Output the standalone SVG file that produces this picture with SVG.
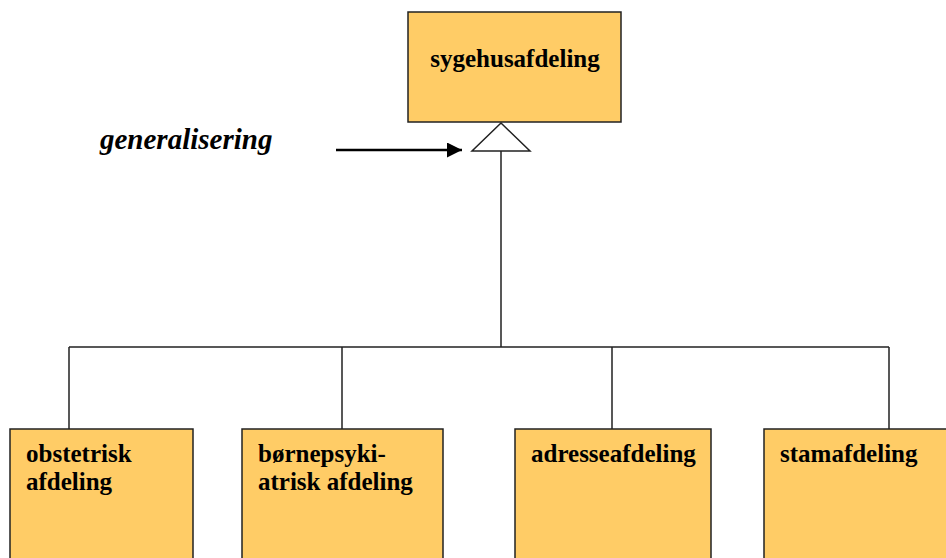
<svg xmlns="http://www.w3.org/2000/svg" width="946" height="558" viewBox="0 0 946 558">
  <style>
    .box { fill: #FFCC66; stroke: #222; stroke-width: 1.5; }
    .lbl { font-family: "Liberation Serif", "Times New Roman", serif; font-weight: bold; font-size: 25px; fill: #000; }
    .wire { fill: none; stroke: #222; stroke-width: 1.5; }
    .note { font-family: "Liberation Serif", "Times New Roman", serif; font-weight: bold; font-style: italic; font-size: 29px; fill: #000; }
  </style>
  <defs>
    <marker id="arrowHead" viewBox="0 0 10 10" refX="10" refY="5" markerWidth="6" markerHeight="6" markerUnits="strokeWidth" orient="auto">
      <path d="M0,0 L10,5 L0,10 z" fill="#000"/>
    </marker>
  </defs>

  <!-- superclass -->
  <g id="sygehusafdeling">
    <rect class="box" x="408" y="12" width="213" height="110"/>
    <text class="lbl" x="515" y="67" text-anchor="middle">sygehusafdeling</text>
  </g>

  <!-- subclasses -->
  <g id="obstetrisk">
    <rect class="box" x="10" y="429" width="183" height="140"/>
    <text class="lbl" x="26" y="462">obstetrisk</text>
    <text class="lbl" x="26" y="490">afdeling</text>
  </g>
  <g id="boernepsykiatrisk">
    <rect class="box" x="242" y="429" width="201" height="140"/>
    <text class="lbl" x="258" y="462">børnepsyki-</text>
    <text class="lbl" x="258" y="490">atrisk afdeling</text>
  </g>
  <g id="adresseafdeling">
    <rect class="box" x="515" y="429" width="196" height="140"/>
    <text class="lbl" x="531" y="462">adresseafdeling</text>
  </g>
  <g id="stamafdeling">
    <rect class="box" x="764" y="429" width="200" height="140"/>
    <text class="lbl" x="780" y="462">stamafdeling</text>
  </g>

  <!-- generalization tree -->
  <g id="connectors">
    <path class="wire" d="M501,151 V347 M69,347 H889 M69,347 V429 M342,347 V429 M612,347 V429 M889,347 V429"/>
    <polygon points="501,123 472,151 530,151" fill="#fff" stroke="#222" stroke-width="1.5"/>
    <line x1="336" y1="150" x2="462" y2="150" stroke="#000" stroke-width="2.5" marker-end="url(#arrowHead)"/>
  </g>

  <g id="generalisering">
    <text class="note" x="100" y="149">generalisering</text>
  </g>
</svg>
